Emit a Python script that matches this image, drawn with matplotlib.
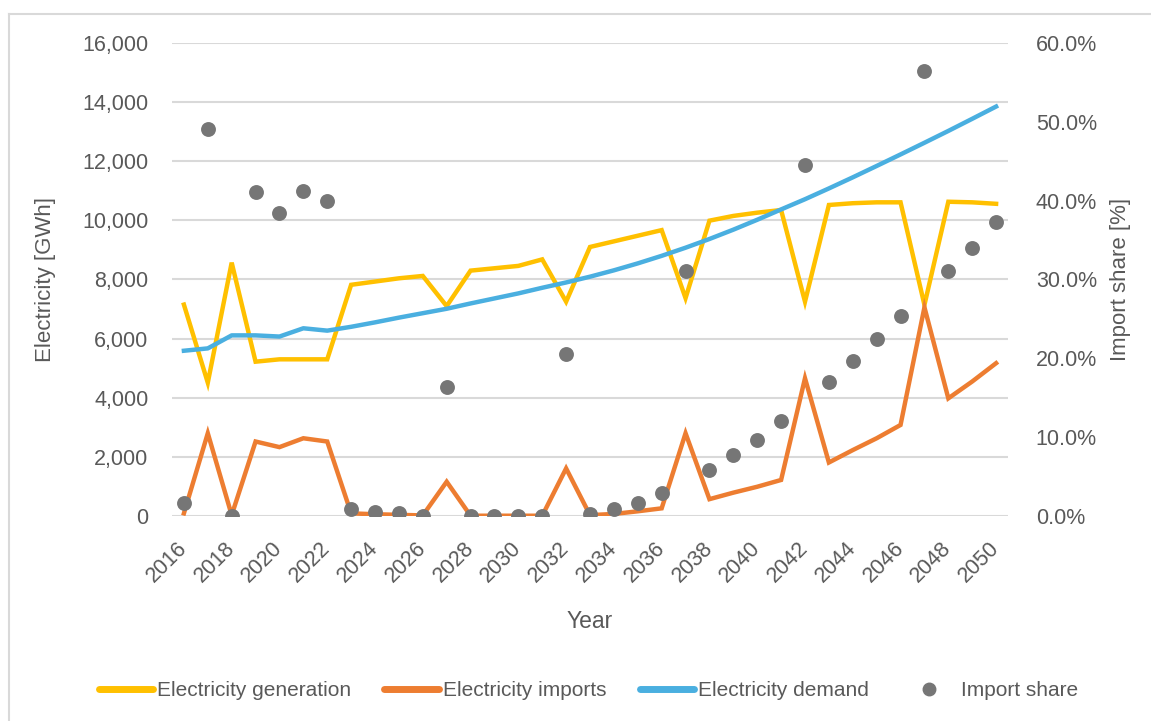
import matplotlib
matplotlib.use("Agg")
import matplotlib.pyplot as plt
from matplotlib.ticker import FuncFormatter, MultipleLocator
from matplotlib.lines import Line2D

# ---- data ----
years = list(range(2016, 2051))

generation = [7150, 4510, 8570, 5220, 5300, 5300, 5300, 7820, 7930, 8040,
              8120, 7100, 8300, 8380, 8460, 8680, 7250, 9100, 9290, 9480,
              9670, 7370, 9990, 10150, 10260, 10350, 7250, 10520, 10580, 10610,
              10610, 7140, 10630, 10610, 10560]

imports = [90, 2800, 30, 2520, 2330, 2630, 2520, 90, 60, 40,
           20, 1160, 10, 10, 10, 10, 1610, 30, 70, 160,
           260, 2800, 570, 790, 990, 1220, 4660, 1810, 2230, 2630,
           3080, 7060, 3980, 4550, 5170]

demand = [5590, 5670, 6110, 6110, 6070, 6350, 6270, 6400, 6550, 6710,
          6860, 7010, 7190, 7360, 7530, 7720, 7900, 8095, 8310, 8545,
          8800, 9075, 9370, 9685, 10020, 10370, 10715, 11080, 11455, 11840,
          12230, 12625, 13025, 13435, 13850]

import_share = [1.7, 49.1, 0.0, 41.1, 38.4, 41.2, 39.9, 0.9, 0.55, 0.35,
                0.0, 16.4, 0.0, 0.0, 0.0, 0.0, 20.6, 0.3, 0.85, 1.7,
                2.9, 31.1, 5.9, 7.8, 9.7, 12.1, 44.5, 17.0, 19.7, 22.5,
                25.4, 56.4, 31.1, 34.0, 37.3]

labels = ["Electricity generation", "Electricity imports",
          "Electricity demand", "Import share"]
# ---------------------------------

C_GEN = "#FFC000"
C_IMP = "#ED7D31"
C_DEM = "#4AAFE0"
C_SHARE = "#767676"
TXT = "#595959"
GRID = "#D9D9D9"

plt.rcParams["font.family"] = ["Liberation Sans", "DejaVu Sans"]

fig = plt.figure(figsize=(11.51, 7.21), dpi=100)
ax = fig.add_axes([0.1494, 0.2843, 0.7264, 0.6561])
ax2 = ax.twinx()

lw = 3.2
ax.plot(years, generation, color=C_GEN, lw=lw, solid_joinstyle="miter", zorder=3)
ax.plot(years, imports, color=C_IMP, lw=lw, solid_joinstyle="miter", zorder=3)
ax.plot(years, demand, color=C_DEM, lw=lw, zorder=3)
ax2.scatter(years, import_share, s=115, color=C_SHARE, zorder=4, linewidths=0)

ax.set_xlim(2015.5, 2050.5)
ax.set_ylim(0, 16000)
ax2.set_ylim(0, 60)

ax.yaxis.set_major_locator(MultipleLocator(2000))
ax.yaxis.set_major_formatter(FuncFormatter(lambda v, p: f"{int(v):,}"))
ax2.yaxis.set_major_locator(MultipleLocator(10))
ax2.yaxis.set_major_formatter(FuncFormatter(lambda v, p: f"{v:.1f}%"))

ax.set_xticks(years[::2])
ax.set_xticklabels([str(y) for y in years[::2]], rotation=45, ha="right",
                   va="center", rotation_mode="anchor")

ax.grid(axis="y", color=GRID, lw=1.5)
ax.set_axisbelow(True)
for a in (ax, ax2):
    for s in a.spines.values():
        s.set_visible(False)
    a.tick_params(length=0, labelsize=15.5, labelcolor=TXT)
ax.tick_params(axis="x", pad=21)
ax.tick_params(axis="y", pad=17)
ax2.tick_params(axis="y", pad=20)

ax.set_ylabel("Electricity [GWh]", fontsize=16, color=TXT, labelpad=19)
ax2.set_ylabel("Import share [%]", fontsize=16, color=TXT, labelpad=9)
ax.set_xlabel("Year", fontsize=16.5, color=TXT, labelpad=17)

handles = [
    Line2D([], [], color=C_GEN, lw=5, solid_capstyle="round"),
    Line2D([], [], color=C_IMP, lw=5, solid_capstyle="round"),
    Line2D([], [], color=C_DEM, lw=5, solid_capstyle="round"),
    Line2D([], [], color=C_SHARE, lw=0, marker="o", markersize=9),
]
leg = fig.legend(handles, labels, loc="center", bbox_to_anchor=(0.511, 0.042),
                 ncol=4, frameon=False, handlelength=2.6, handletextpad=0.2,
                 columnspacing=1.6, prop={"size": 15})
for t in leg.get_texts():
    t.set_color(TXT)

# outer chart frame (left and top edges visible in the crop)
fig.add_artist(Line2D([9 / 1151, 9 / 1151], [0, 1 - 14 / 721],
                      transform=fig.transFigure, color=GRID, lw=1.5))
fig.add_artist(Line2D([9 / 1151, 1], [1 - 14 / 721, 1 - 14 / 721],
                      transform=fig.transFigure, color=GRID, lw=1.5))

fig.savefig("out.png", dpi=100)
